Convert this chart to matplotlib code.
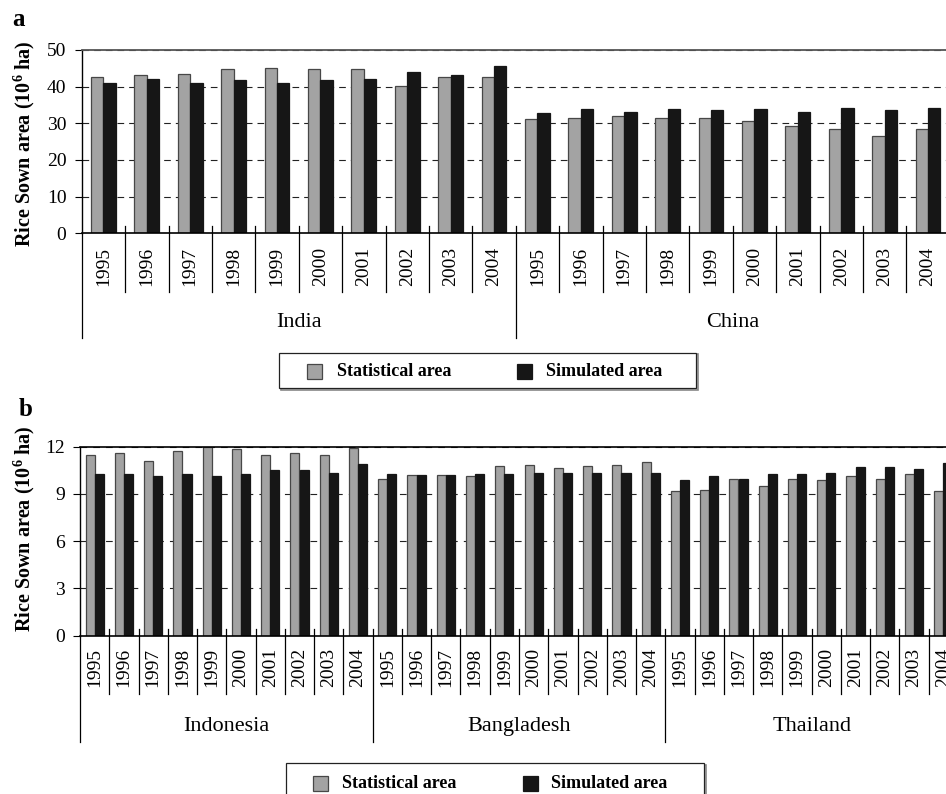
import matplotlib
matplotlib.use("Agg")
import matplotlib.pyplot as plt
from matplotlib.patches import Rectangle
import numpy as np

plt.rcParams["font.family"] = ["Liberation Serif", "DejaVu Serif"]
plt.rcParams["mathtext.fontset"] = "custom"
plt.rcParams["mathtext.rm"] = "Liberation Serif"
plt.rcParams["mathtext.bf"] = "Liberation Serif:bold"

# ---- data -------------------------------------------------------------
years = ["1995", "1996", "1997", "1998", "1999", "2000", "2001", "2002", "2003", "2004"]

countries_a = ["India", "China"]
india_stat = [42.7, 43.2, 43.5, 44.7, 45.0, 44.7, 44.7, 40.2, 42.5, 42.5]
india_sim = [40.9, 42.1, 40.9, 41.7, 40.9, 41.7, 42.1, 43.9, 43.3, 45.6]
china_stat = [31.1, 31.5, 31.9, 31.5, 31.5, 30.5, 29.2, 28.5, 26.6, 28.5]
china_sim = [32.7, 33.8, 33.2, 33.8, 33.5, 33.8, 33.2, 34.2, 33.5, 34.2]

countries_b = ["Indonesia", "Bangladesh", "Thailand"]
indonesia_stat = [11.47, 11.58, 11.11, 11.75, 12.0, 11.83, 11.47, 11.58, 11.47, 11.94]
indonesia_sim = [10.26, 10.26, 10.16, 10.26, 10.16, 10.26, 10.52, 10.52, 10.35, 10.88]
bangladesh_stat = [9.95, 10.22, 10.22, 10.14, 10.75, 10.86, 10.67, 10.75, 10.86, 11.03]
bangladesh_sim = [10.24, 10.22, 10.22, 10.24, 10.24, 10.35, 10.35, 10.35, 10.35, 10.35]
thailand_stat = [9.19, 9.27, 9.97, 9.52, 9.97, 9.88, 10.16, 9.97, 10.24, 9.19]
thailand_sim = [9.88, 10.16, 9.97, 10.26, 10.26, 10.35, 10.71, 10.71, 10.60, 10.96]

yticks_a = [0, 10, 20, 30, 40, 50]
yticks_b = [0, 3, 6, 9, 12]
legend_labels = ["Statistical area", "Simulated area"]

# ---- styling ----------------------------------------------------------
GRAY = "#a3a3a3"
GRAY_EDGE = "#474747"
BLACK = "#161616"

W, H = 946, 794
fig = plt.figure(figsize=(W / 100, H / 100), dpi=100)
fig.patch.set_facecolor("white")


def fx(x):
    return x / W


def fy(y):
    return 1 - y / H


def add_axes_px(left, top, width, height):
    return fig.add_axes([fx(left), fy(top + height), width / W, height / H])


def draw_panel(ax, countries, stats, sims, ymax, yticks, bar_w,
               height_px, year_pad, sep_px, group_px, label_px, dash):
    n_years = len(years)
    n = n_years * len(countries)
    x = np.arange(n)
    stat_all = np.concatenate(stats)
    sim_all = np.concatenate(sims)

    ax.yaxis.grid(True, linestyle=dash, color="#222222", lw=0.8, zorder=0)
    ax.set_axisbelow(True)
    ax.bar(x - bar_w / 2, stat_all, width=bar_w, color=GRAY,
           edgecolor=GRAY_EDGE, lw=0.9, zorder=2)
    ax.bar(x + bar_w / 2, sim_all, width=bar_w, color=BLACK,
           edgecolor=BLACK, lw=0.9, zorder=2)

    ax.set_xlim(-0.5, n - 0.5)
    ax.set_ylim(0, ymax)
    ax.set_yticks(yticks)
    ax.tick_params(axis="y", direction="out", length=5, width=0.8,
                   pad=6, labelsize=14)
    ax.set_xticks(x)
    ax.set_xticklabels(years * len(countries), rotation=90, fontsize=14)
    ax.tick_params(axis="x", length=0, pad=year_pad)

    ax.spines["right"].set_visible(False)
    ax.spines["left"].set_linewidth(1.0)
    ax.spines["bottom"].set_linewidth(1.2)

    tr = ax.get_xaxis_transform()
    up = 7 / height_px
    sep_low = -sep_px / height_px
    grp_low = -group_px / height_px
    for b in range(n + 1):
        xb = b - 0.5
        if b % n_years == 0:
            ax.plot([xb, xb], [up if 0 < b < n else 0, grp_low],
                    color="black", lw=0.9, transform=tr, clip_on=False)
        else:
            ax.plot([xb, xb], [up, sep_low], color="black", lw=0.9,
                    transform=tr, clip_on=False)

    for i, name in enumerate(countries):
        ax.text(i * n_years + (n_years - 1) / 2, -label_px / height_px, name,
                ha="center", va="center", fontsize=16, transform=tr)


def draw_legend(x0, y0, x1, y1, yc, sw_x, tx_x):
    fig.add_artist(Rectangle((fx(x0 + 1.5), fy(y1 + 1.5)), (x1 - x0) / W,
                             (y1 - y0) / H, transform=fig.transFigure,
                             facecolor="none", edgecolor="#888888", lw=1.2))
    fig.add_artist(Rectangle((fx(x0), fy(y1)), (x1 - x0) / W, (y1 - y0) / H,
                             transform=fig.transFigure, facecolor="white",
                             edgecolor="#222222", lw=0.9))
    for sx, tx, col, ec, lab in zip(sw_x, tx_x, [GRAY, BLACK],
                                    [GRAY_EDGE, BLACK], legend_labels):
        fig.add_artist(Rectangle((fx(sx), fy(yc + 7.5)), 15 / W, 15 / H,
                                 transform=fig.transFigure, facecolor=col,
                                 edgecolor=ec, lw=0.9))
        fig.text(fx(tx), fy(yc), lab, ha="left", va="center",
                 fontsize=13, fontweight="bold")


# ---- panel a ----------------------------------------------------------
ax_a = add_axes_px(81.7, 50, 868, 183.3)
draw_panel(ax_a, countries_a, [india_stat, china_stat], [india_sim, china_sim],
           50, yticks_a, 0.285, 183.3, 10, 59, 105, 89, (0, (6, 4.5)))
ax_a.spines["top"].set_linestyle((0, (2, 1)))
ax_a.spines["top"].set_color("#555555")
ax_a.spines["top"].set_linewidth(1.3)

# ---- panel b ----------------------------------------------------------
ax_b = add_axes_px(80, 446.7, 878, 189)
draw_panel(ax_b, countries_b, [indonesia_stat, bangladesh_stat, thailand_stat],
           [indonesia_sim, bangladesh_sim, thailand_sim],
           12, yticks_b, 0.31, 189, 8.6, 58, 106, 91, (0, (6, 5.5)))
ax_b.spines["top"].set_linewidth(1.2)

# ---- labels and legends -----------------------------------------------
ylab = r"Rice Sown area (10$^{\mathbf{6}}$ ha)"
fig.text(fx(24), fy(144), ylab, rotation=90, ha="center", va="center",
         fontsize=14.5, fontweight="bold")
fig.text(fx(24), fy(529), ylab, rotation=90, ha="center", va="center",
         fontsize=14.5, fontweight="bold")
fig.text(fx(18), fy(20), "a", ha="center", va="center", fontsize=18,
         fontweight="bold")
fig.text(fx(26), fy(410), "b", ha="center", va="center", fontsize=18,
         fontweight="bold")

draw_legend(279, 353, 696, 388, 371, [307, 517], [337, 546])
draw_legend(286, 763, 704, 798, 783, [313, 523], [342, 551])

fig.savefig("out.png", dpi=100, facecolor="white")
